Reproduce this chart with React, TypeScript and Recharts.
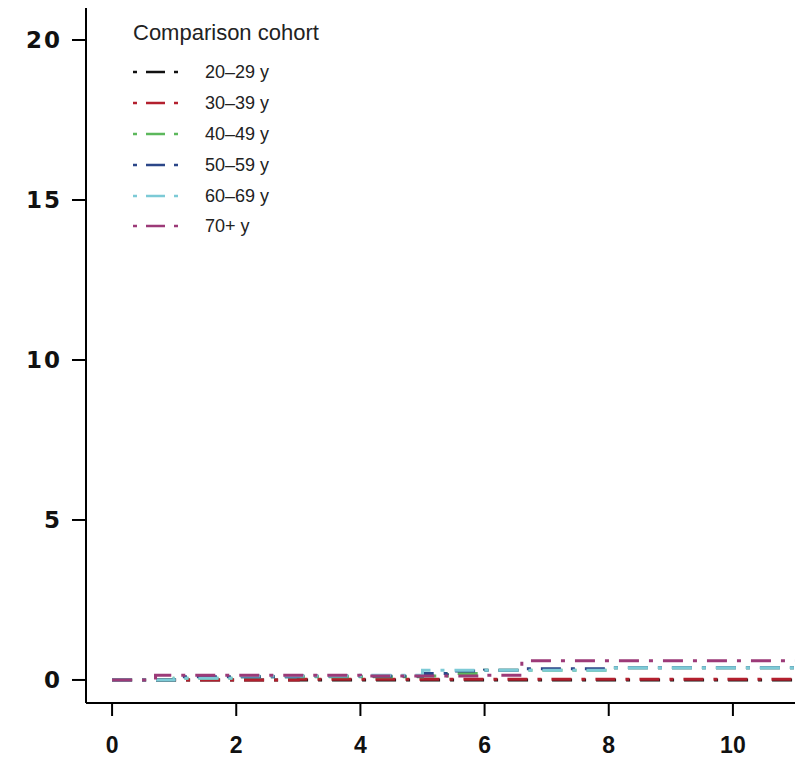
import { LineChart, Line, XAxis, YAxis, Legend } from 'recharts';

// follow-up time (years) at which the curves step
const times = [0, 0.7, 1.0, 2.0, 3.0, 4.0, 5.0, 5.4, 6.0, 6.6, 8.0, 11];

const age20to29 = [0, 0, 0, 0, 0, 0, 0, 0, 0, 0, 0, 0];
const age30to39 = [0, 0, 0, 0, 0.02, 0.02, 0.02, 0.02, 0.02, 0.02, 0.02, 0.02];
const age40to49 = [0, 0, 0.05, 0.1, 0.1, 0.1, 0.12, 0.2, 0.3, 0.3, 0.38, 0.4];
const age50to59 = [0, 0, 0.1, 0.1, 0.12, 0.12, 0.2, 0.28, 0.3, 0.35, 0.38, 0.38];
const age60to69 = [0, 0, 0.05, 0.12, 0.12, 0.15, 0.3, 0.3, 0.3, 0.3, 0.38, 0.4];
const age70plus = [0, 0.15, 0.15, 0.15, 0.15, 0.12, 0.12, 0.12, 0.15, 0.6, 0.6, 0.6];

const xTicks = [0, 2, 4, 6, 8, 10];
const yTicks = [0, 5, 10, 15, 20];

const series = [
  { key: 'a20', name: '20–29 y', color: '#111111', values: age20to29 },
  { key: 'a30', name: '30–39 y', color: '#b3202e', values: age30to39 },
  { key: 'a40', name: '40–49 y', color: '#5cb85c', values: age40to49 },
  { key: 'a50', name: '50–59 y', color: '#2b4688', values: age50to59 },
  { key: 'a60', name: '60–69 y', color: '#7ccad6', values: age60to69 },
  { key: 'a70', name: '70+ y', color: '#9c3a78', values: age70plus },
];

const data = times.map((t, i) => {
  const row: Record<string, number> = { t };
  series.forEach((s) => {
    row[s.key] = s.values[i];
  });
  return row;
});

const FONT = '"Liberation Sans", Arial, sans-serif';

const LegendBox = () => (
  <div style={{ fontFamily: FONT, color: '#222', lineHeight: 1 }}>
    <div style={{ fontSize: 22, marginBottom: 13 }}>Comparison cohort</div>
    {series.map((s) => (
      <div
        key={s.key}
        style={{ display: 'flex', alignItems: 'center', height: 30.8 }}
      >
        <svg width={52} height={10} style={{ marginRight: 20 }}>
          <line
            x1={0}
            y1={5}
            x2={50}
            y2={5}
            stroke={s.color}
            strokeWidth={2.5}
            strokeDasharray='4 9 19 9 4 99'
          />
        </svg>
        <span style={{ fontSize: 18 }}>{s.name}</span>
      </div>
    ))}
  </div>
);

const App = () => {
  return (
    <div style={{ position: 'absolute', top: 0, left: 0 }}>
      <LineChart
        width={800}
        height={773}
        data={data}
        margin={{ top: 8, right: 5, bottom: 0, left: 0 }}
      >
        <XAxis
          type='number'
          dataKey='t'
          domain={[-0.42, 11]}
          ticks={xTicks}
          allowDataOverflow
          height={70}
          stroke='#000'
          strokeWidth={2}
          tickSize={13}
          tickMargin={21}
          tick={{ fill: '#111', fontSize: 23, fontWeight: 'bold', fontFamily: FONT }}
        />
        <YAxis
          type='number'
          domain={[-0.72, 21]}
          ticks={yTicks}
          allowDataOverflow
          width={86}
          stroke='#000'
          strokeWidth={2}
          tickSize={14}
          tickMargin={10}
          tick={{ fill: '#111', fontSize: 23, fontWeight: 'bold', fontFamily: '"DejaVu Sans", sans-serif', letterSpacing: 2 }}
        />
        <Legend
          layout='vertical'
          align='center'
          verticalAlign='middle'
          wrapperStyle={{ top: 22, left: 133, width: 260, height: 230 }}
          content={() => <LegendBox />}
        />
        {series.map((s) => (
          <Line
            key={s.key}
            type='stepAfter'
            dataKey={s.key}
            name={s.name}
            stroke={s.color}
            strokeWidth={3}
            strokeDasharray='20 10 4 10'
            dot={false}
            activeDot={false}
            isAnimationActive={false}
          />
        ))}
      </LineChart>
    </div>
  );
};

export default App;
